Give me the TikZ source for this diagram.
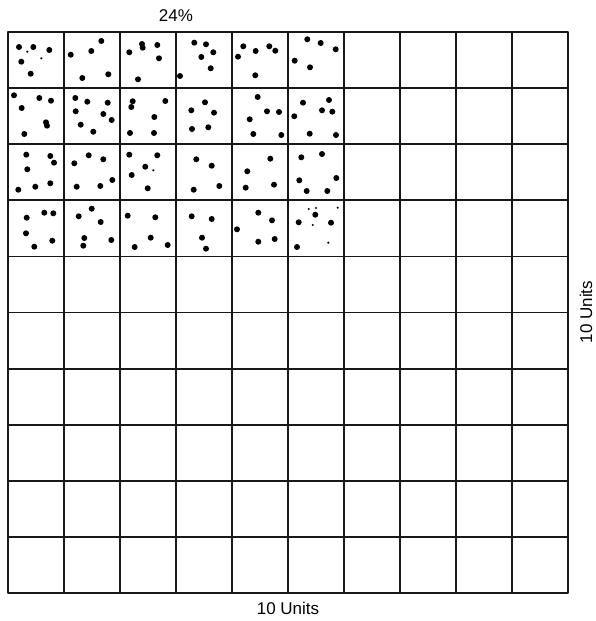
\documentclass[tikz,border=0pt]{standalone}
\usepackage{fontspec}
\setmainfont{Liberation Sans}
\begin{document}
\begin{tikzpicture}[x=1pt,y=-1pt,
  inner/.style={line width=1.8pt,black!90},
  outer/.style={line width=2.8pt,black!90,line join=round},
  big/.style={fill=black},
  lbl/.style={font=\fontsize{17}{20}\selectfont,inner sep=0pt}]
\useasboundingbox (0,0) rectangle (596,621);
% grid
\foreach \i in {1,...,9}{
  \draw[inner] ({8+56*\i},32) -- ({8+56*\i},593);
  \draw[inner] (8,{32+56.1*\i}) -- (568,{32+56.1*\i});
}
\draw[outer] (8,32) rectangle (568,593);
% large dots
\foreach \x/\y in {
 19/47, 33.3/47, 49.3/50, 21.3/61.7, 30.7/73.7,
 101.3/41, 91.3/51, 70.7/54.7, 82.3/78, 108.3/74.3,
 142/44, 142.7/47.7, 157.3/45, 129.3/52.3, 159/58.3, 138/79.3,
 194.3/42.7, 206/44.3, 213.3/52.3, 201.3/57, 210.7/68.3, 180/76,
 243.3/46.3, 255.7/51, 269.3/46.3, 275.3/50.7, 238/56.7, 255.3/75.3,
 307.3/39.3, 320.7/43, 335.7/49.3, 294.7/60.7, 310/67.3,
 14/95.3, 21.7/108, 39.3/98, 51/100.7, 46/122.3, 47/125.7, 24.3/134,
 75.3/98, 87.3/101.7, 107.7/102.7, 75.7/111.3, 103.3/114, 111.7/120, 80.7/124.7, 93.3/131.7,
 132.7/101.3, 131.3/107, 165.3/101, 154.3/117, 130/133, 154/133,
 205/102.3, 191.3/110.3, 214/112.7, 192/129, 208.3/127.3,
 257.7/97, 267/111.3, 279/112, 249.7/119.3, 253.3/134, 281.3/135,
 303/102.7, 329/100, 294.3/116.3, 322/110.3, 332.3/111.7, 309.7/133.7, 336/135,
 26.3/154.7, 50.3/156, 54/162.7, 27.3/169.3, 18.3/189.7, 35.3/186.7, 50.3/183.3,
 88.7/155.3, 103.3/159.3, 74.3/163.3, 76.7/186.7, 100.3/186, 112.3/180,
 129.3/154.7, 157.3/155.3, 145.3/166.7, 131.7/175, 147.7/188.3,
 196.3/159.3, 211.7/165.7, 193.7/189.7, 219.3/186,
 270.3/158.7, 247.3/171.3, 245.7/187.7, 274/184.7,
 301.3/157.3, 322/154, 299.3/180.3, 336.3/178, 306.7/191, 327.3/191,
 26.7/217.7, 44.3/212.7, 53.3/213.3, 26/233.3, 34.3/246.7, 52.3/240.7,
 91.7/208.7, 78.7/216.3, 100.7/222, 84.3/238, 83.3/245.7, 111.3/240,
 127.7/215.7, 155.3/217.3, 150.7/237.7, 134.7/247, 167.7/245,
 191.7/216.3, 211.7/219, 202/237.7, 206/248.7,
 258.3/212.7, 272/220.3, 237/229.3, 258.3/241.7, 274.7/239,
 315.3/214.7, 298.7/222.3, 331/222.7, 297/247}
  \fill[big] (\x,\y) circle (3);
% small dots
\foreach \x/\y in {27.3/51.7, 41.3/58.3, 153.3/170.3,
 308.7/209, 316/208, 337.7/207.7, 312.7/225, 328.3/242.7}
  \fill (\x,\y) circle (1.2);
% labels
\node[lbl] (top) at (176,16) {24\%};
\node[lbl] (bottom) at (288,608) {10 Units};
\node[lbl,rotate=90] (right) at (586,312) {10 Units};
\end{tikzpicture}
\end{document}
